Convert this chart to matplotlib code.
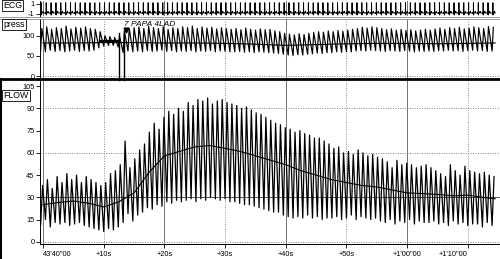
import numpy as np
import matplotlib
matplotlib.use('Agg')
import matplotlib.pyplot as plt
from matplotlib.lines import Line2D

plt.rcParams['font.family'] = ['Liberation Sans', 'DejaVu Sans']

# beats (one per heart cycle) ------------------------------------------
t_first = -0.4      # s, first beat
period = 0.8        # s, heart period

# FLOW per beat: systolic peak and diastolic trough (rows of 10 beats)
flow_peak = [38, 42, 36, 44, 40, 46, 42, 45, 40, 44,
             42, 40, 38, 40, 46, 48, 52, 68, 50, 56,
             62, 66, 74, 80, 76, 84, 88, 86, 90, 88,
             94, 92, 96, 95, 97, 93, 95, 96, 94, 93,
             92, 90, 91, 89, 87, 86, 84, 82, 80, 79,
             77, 76, 74, 75, 73, 72, 70, 70, 68, 66,
             63, 64, 60, 61, 59, 62, 60, 58, 59, 57,
             56, 54, 50, 55, 52, 53, 52, 50, 51, 52,
             50, 48, 46, 44, 52, 48, 45, 51, 48, 47,
             46, 47, 45, 44]
flow_trough = [11, 15, 10, 13, 12, 13, 11, 12, 13, 11,
               10, 9, 8, 7, 9, 8, 10, 13, 19, 14,
               18, 20, 23, 22, 25, 24, 27, 26, 28, 27,
               28, 29, 27, 29, 28, 30, 29, 28, 29, 27,
               27, 26, 25, 25, 24, 23, 22, 21, 20, 20,
               18, 17, 16, 17, 16, 18, 16, 17, 15, 16,
               16, 17, 15, 16, 18, 15, 17, 16, 15, 16,
               14, 13, 15, 12, 14, 13, 15, 12, 14, 13,
               13, 14, 12, 13, 11, 14, 12, 13, 11, 12,
               12, 10, 13, 11]

# mean FLOW, every 2.5 s
mean_t = [0, 2.5, 5, 7.5, 10, 12.5, 15, 17.5, 20, 22.5, 25, 27.5, 30, 32.5, 35, 37.5,
          40, 42.5, 45, 47.5, 50, 52.5, 55, 57.5, 60, 62.5, 65, 67.5, 70, 72.5, 74.5]
flow_mean = [25, 26.5, 27.5, 26, 23.5, 27, 33, 47, 58, 61, 64, 65, 63, 61, 58, 55,
             52, 48, 45, 42, 40, 38, 37, 35, 33, 32.5, 32, 31, 31.5, 30, 29]

# press per beat
press_peak = [118, 122, 116, 120, 118, 124, 117, 121, 119, 122,
              118, 116, 110, 100, 98, 96, 100, 112, 118, 120,
              122, 118, 124, 120, 118, 122, 116, 120, 118, 122,
              120, 124, 118, 122, 119, 121, 117, 120, 118, 116,
              118, 115, 119, 116, 114, 117, 115, 116, 112, 110,
              106, 104, 102, 105, 103, 106, 108, 110, 109, 112,
              110, 113, 111, 114, 116, 118, 121, 119, 122, 120,
              118, 115, 117, 114, 116, 113, 115, 112, 114, 116,
              114, 117, 119, 116, 120, 118, 121, 117, 119, 122,
              120, 118, 123, 121]
press_trough = [62, 60, 64, 61, 63, 60, 62, 64, 61, 63,
                62, 64, 70, 74, 76, 76, 72, 58, 62, 60,
                62, 60, 63, 61, 62, 64, 61, 63, 60, 62,
                61, 63, 60, 62, 61, 63, 60, 62, 61, 60,
                60, 61, 59, 60, 58, 60, 59, 58, 57, 56,
                54, 52, 51, 53, 52, 54, 55, 57, 56, 58,
                58, 60, 59, 61, 60, 62, 63, 62, 64, 63,
                62, 61, 63, 62, 61, 63, 62, 60, 62, 61,
                62, 61, 63, 62, 64, 62, 63, 61, 63, 64,
                62, 63, 61, 62]
press_mean_t = [0, 5, 10, 15, 20, 25, 30, 35, 40, 45, 50, 55, 60, 65, 70, 74.5]
press_mean = [82, 82, 83, 83, 82, 82, 81, 79, 76, 78, 80, 81, 81, 80, 81, 82]

tick_pos = [0, 10, 20, 30, 40, 50, 60, 70]
tick_lab = ["43'40\"00", '+10s', '+20s', '+30s', '+40s', '+50s', "+1'00\"00", "+1'10\"00"]

n = len(flow_peak)
beats = t_first + period * np.arange(n)


def wave(tb, hi, lo, frac):
    # trough at beat onset, peak a fraction of the cycle later
    xs, ys = [], []
    for t, h, l in zip(tb, hi, lo):
        xs += [t, t + frac * period]
        ys += [l, h]
    return np.array(xs), np.array(ys)


W, H = 500, 259
fig = plt.figure(figsize=(5, 2.59), dpi=100)
x0, x1 = 40 / W, 1.0
xlim = (-0.5, 75.3)
fs = 5.3


def panel(top, bot):
    ax = fig.add_axes([x0, 1 - bot / H, x1 - x0, (bot - top) / H])
    ax.set_xlim(*xlim)
    ax.patch.set_alpha(0)
    for s in ['top', 'right', 'bottom']:
        ax.spines[s].set_visible(False)
    ax.spines['left'].set_linewidth(0.7)
    ax.tick_params(axis='y', labelsize=fs, length=3, width=0.6, pad=1)
    ax.set_xticks([])
    for t in tick_pos:
        if t % 20 == 0:
            ax.axvline(t, color='0.45', lw=0.7, zorder=0)
        else:
            ax.axvline(t, color='0.55', lw=0.7, ls=(0, (1, 1.5)), zorder=0)
    return ax


# ECG ----------------------------------------------------------------
ax_e = panel(1, 16)
ax_e.set_ylim(-1.5, 1.5)
ax_e.set_yticks([1, -1])
ax_e.set_yticklabels(['1', '-1'])
shape_t = [0, 0.06, 0.10, 0.13, 0.16, 0.19, 0.22, 0.42, 0.52, 0.62]
shape_v = [-0.9, -0.75, -0.9, -1.1, 1.15, -1.3, -0.9, -0.9, -0.55, -0.9]
ex, ey = [], []
for t in beats:
    ex += [t + s * period for s in shape_t]
    ey += shape_v
ax_e.plot(ex, ey, color='k', lw=0.7)

# press --------------------------------------------------------------
ax_p = panel(19, 78)
ax_p.set_ylim(-4.9, 141.5)
ax_p.set_yticks([0, 50, 100])
ax_p.axhline(0, color='0.5', lw=0.7, ls=(0, (1, 1.5)), zorder=0)
px, py = wave(beats, press_peak, press_trough, 0.25)
ax_p.plot(px, py, color='k', lw=0.85)
ax_p.plot(press_mean_t, press_mean, color='k', lw=0.8)
ax_p.plot([9.6, 12.6], [88, 88], color='k', lw=1.6)
for t in [12.6, 13.3]:
    ax_p.plot([t, t], [107, -10], color='k', lw=1.0, clip_on=False)
ax_p.plot([13.6], [113], marker='v', color='k', ms=3.5)
ax_p.text(13.4, 127, '7 PAPA 4LAD', fontsize=6, style='italic', va='center', ha='left')

# FLOW ---------------------------------------------------------------
ax_f = panel(81, 244)
ax_f.set_ylim(-1.5, 108.5)
ax_f.set_yticks(np.arange(0, 106, 15))
ax_f.spines['bottom'].set_visible(True)
ax_f.spines['bottom'].set_linewidth(0.7)
ax_f.set_xticks(tick_pos)
ax_f.set_xticklabels(tick_lab)
ax_f.tick_params(axis='x', labelsize=fs, length=3, width=0.6, pad=2)
labs = ax_f.get_xticklabels()
labs[0].set_ha('left')
labs[-1].set_ha('right')
ax_f.axhline(30, color='0.35', lw=0.7, zorder=0)
for v in [0, 60, 90]:
    ax_f.axhline(v, color='0.5', lw=0.7, ls=(0, (1, 1.5)), zorder=0)
fx, fy = wave(beats, flow_peak, flow_trough, 0.4)
ax_f.plot(fx, fy, color='k', lw=0.9)
ax_f.plot(mean_t, flow_mean, color='k', lw=0.8)

# frame lines and channel labels -------------------------------------
def hline(y, c, lw):
    fig.add_artist(Line2D([0, 1], [1 - y / H, 1 - y / H], color=c, lw=lw))

hline(16.5, '0.55', 0.6)
hline(18.5, '0.55', 0.6)
hline(79.5, 'k', 2.0)
fig.add_artist(Line2D([1 / W, 1 / W], [0, 1 - 79.5 / H], color='k', lw=1.5))

box = dict(boxstyle='square,pad=0.12', fc='white', ec='k', lw=0.6)
fig.text(3 / W, 1 - 5.5 / H, 'ECG', fontsize=6.3, va='center', ha='left', bbox=box)
fig.text(3 / W, 1 - 24.5 / H, 'press', fontsize=6.3, va='center', ha='left', bbox=box)
fig.text(3.5 / W, 1 - 95.5 / H, 'FLOW', fontsize=6.3, va='center', ha='left', bbox=box)

fig.savefig('out.png', dpi=100)
